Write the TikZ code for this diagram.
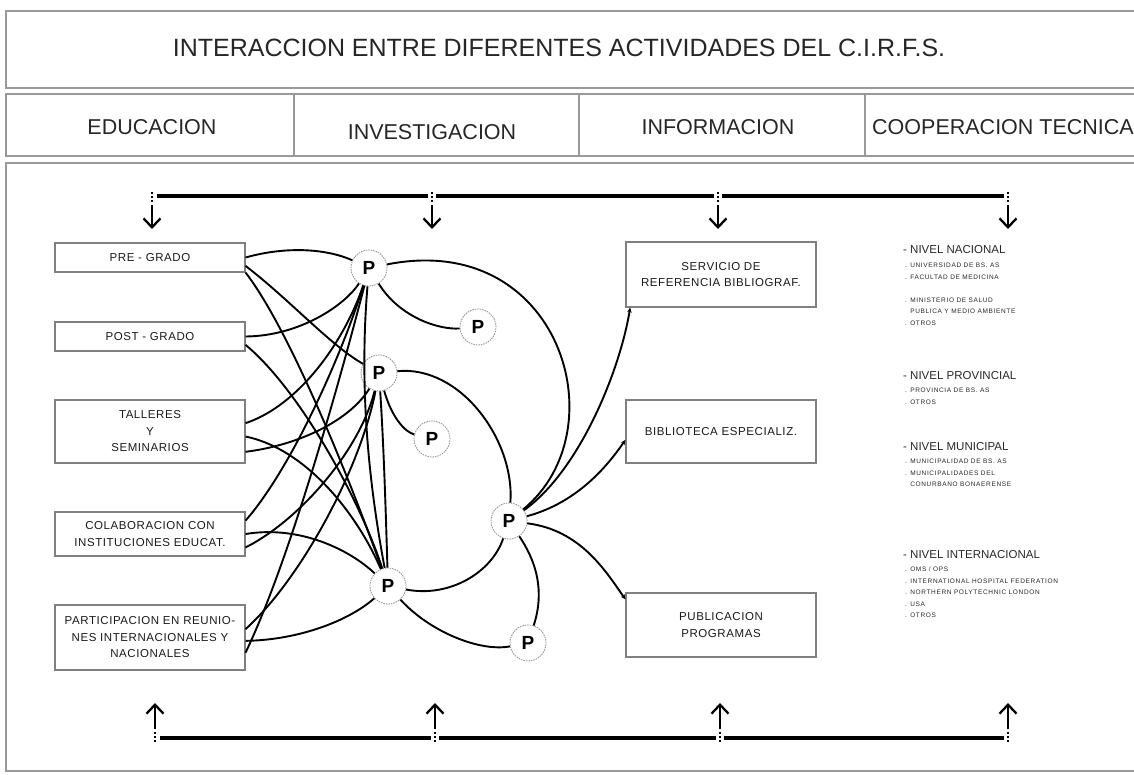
\documentclass[tikz,border=0pt]{standalone}
\usepackage{fontspec}
\setmainfont{Liberation Sans}
\newfontfamily\spacedfont[LetterSpace=5]{Liberation Sans}
\newfontfamily\itemfont[LetterSpace=10]{Liberation Sans}
\usetikzlibrary{arrows.meta}
\begin{document}
\begin{tikzpicture}[x=1pt,y=-1pt,
  frame/.style={draw=black!40, line width=1.8pt, inner sep=0pt, anchor=north west},
  headtext/.style={font=\fontsize{21.5}{21.5}\selectfont, text=black!85, inner sep=0pt},
  box/.style={draw=black!50, line width=1.1pt, minimum width=190pt, align=center, inner sep=0pt, text=black!90, font=\spacedfont\fontsize{11.5}{16.5}\selectfont},
  pnode/.style={circle, draw=black!45, line width=0.8pt, dash pattern=on 1.5pt off 1pt, minimum size=36pt, inner sep=0pt, font=\bfseries\fontsize{19}{19}\selectfont},
  link/.style={line width=1.9pt},
  tolink/.style={line width=1.9pt, -{Stealth[length=5pt,width=4.5pt]}},
  bus/.style={line width=3.6pt},
  stub/.style={line width=1.5pt, dash pattern=on 2pt off 2pt},
  droparrow/.style={line width=2.3pt, -{Straight Barb[length=9pt,width=17pt]}},
  lvl/.style={anchor=west, inner sep=0pt, font=\fontsize{11.5}{11.5}\selectfont, text=black!85},
  items/.style={anchor=north west, inner sep=0pt, align=left, font=\itemfont\fontsize{6.5}{11.5}\selectfont, text=black!85},
]
\useasboundingbox (0,0) rectangle (1134,774);
\clip (0,0) rectangle (1134,774);

% frames
\node[frame, minimum width=1140pt, minimum height=77pt] (titlebox) at (5,10) {};
\node[headtext, font=\fontsize{25}{25}\selectfont] (title) at (559,48) {INTERACCION ENTRE DIFERENTES ACTIVIDADES DEL C.I.R.F.S.};
\node[frame, minimum width=288pt, minimum height=62pt] (cell1) at (5,93) {};
\node[frame, minimum width=285pt, minimum height=62pt] (cell2) at (293,93) {};
\node[frame, minimum width=286pt, minimum height=62pt] (cell3) at (578,93) {};
\node[frame, minimum width=280pt, minimum height=62pt] (cell4) at (864,93) {};
\node[headtext] (h1) at (152,127) {EDUCACION};
\node[headtext] (h2) at (432,132) {INVESTIGACION};
\node[headtext] (h3) at (718,127) {INFORMACION};
\node[headtext, anchor=west] (h4) at (872,127) {COOPERACION TECNICA};
\node[frame, minimum width=1140pt, minimum height=608pt] (mainbox) at (5,162) {};

% top bus
\coordinate (t1) at (152,196);
\coordinate (t2) at (432,196);
\coordinate (t3) at (718,196);
\coordinate (t4) at (1008,196);
\draw[bus] ([xshift=5pt]t1) -- ([xshift=-4pt]t2);
\draw[bus] ([xshift=4pt]t2) -- ([xshift=-4pt]t3);
\draw[bus] ([xshift=4pt]t3) -- ([xshift=-4pt]t4);
\foreach \c in {t1,t2,t3,t4}{
  \draw[stub] ([yshift=4pt]\c) -- ([yshift=-7pt]\c);
  \draw[droparrow] ([yshift=-9pt]\c) -- ([yshift=-33pt]\c);
}
% bottom bus
\coordinate (b1) at (155,738);
\coordinate (b2) at (435,738);
\coordinate (b3) at (720,738);
\coordinate (b4) at (1008,738);
\draw[bus] ([xshift=5pt]b1) -- ([xshift=-4pt]b2);
\draw[bus] ([xshift=4pt]b2) -- ([xshift=-4pt]b3);
\draw[bus] ([xshift=4pt]b3) -- ([xshift=-4pt]b4);
\foreach \c in {b1,b2,b3,b4}{
  \draw[stub] ([yshift=-4pt]\c) -- ([yshift=7pt]\c);
  \draw[droparrow] ([yshift=9pt]\c) -- ([yshift=35pt]\c);
}

% left boxes
\node[box, minimum height=29pt] (pre) at (150,257.5) {PRE - GRADO};
\node[box, minimum height=29pt] (post) at (150,336.5) {POST - GRADO};
\node[box, minimum height=63pt] (tall) at (150,431.5) {TALLERES\\Y\\SEMINARIOS};
\node[box, minimum height=44pt] (colab) at (150,534) {COLABORACION CON\\INSTITUCIONES EDUCAT.};
\node[box, minimum height=65pt] (part) at (150,637.5) {PARTICIPACION EN REUNIO-\\NES INTERNACIONALES Y\\NACIONALES};
% information boxes
\node[box, minimum height=65pt] (serv) at (721,274.5) {SERVICIO DE\\REFERENCIA BIBLIOGRAF.};
\node[box, minimum height=63pt] (bibl) at (721,431.5) {BIBLIOTECA ESPECIALIZ.};
\node[box, minimum height=64pt] (publ) at (721,625) {PUBLICACION\\PROGRAMAS};

% P nodes
\node[pnode] (p1) at (369,268) {P};
\node[pnode] (p2) at (478,327) {P};
\node[pnode] (p3) at (379,373) {P};
\node[pnode] (p4) at (432,439) {P};
\node[pnode] (p5) at (509,521) {P};
\node[pnode] (p6) at (388,586) {P};
\node[pnode] (p7) at (528,643) {P};

% connections among P
\draw[link] (p1) .. controls (560,230) and (620,430) .. (p5);
\draw[link] (p1) .. controls (400,318) and (440,330) .. (p2);
\draw[link] (p3) .. controls (460,365) and (515,440) .. (p5);
\draw[link] (p3) .. controls (392,418) and (405,432) .. (p4);
\draw[link] (p6) .. controls (450,598) and (492,572) .. (p5);
\draw[link] (p6) .. controls (430,632) and (480,652) .. (p7);
\draw[link] (p5) .. controls (542,570) and (542,600) .. (p7);
\draw[tolink] (p5) .. controls (580,470) and (620,370) .. (serv.200);
\draw[tolink] (p5) .. controls (580,502) and (610,462) .. (bibl.185);
\draw[tolink] (p5) .. controls (580,530) and (605,570) .. (publ.165);
\draw[link] (p1) .. controls (358,400) and (372,500) .. (p6);
\draw[link] (p3) .. controls (384,450) and (386,520) .. (p6);

% left crossing lines
\draw[link] (pre.east) .. controls (290,245) and (330,250) .. (p1);
\draw[link] (pre.-5) .. controls (290,300) and (330,345) .. (p3);
\draw[link] (pre.south east) .. controls (290,330) and (350,480) .. (p6);
\draw[link] (post.east) .. controls (300,336) and (345,305) .. (p1);
\draw[link] (post.-5) .. controls (300,390) and (360,500) .. (p6);
\draw[link] (tall.5) .. controls (300,405) and (345,340) .. (p1);
\draw[link] (tall.-3) .. controls (310,450) and (360,520) .. (p6);
\draw[link] (tall.-12) .. controls (300,445) and (350,420) .. (p3);
\draw[link] (colab.8) .. controls (290,470) and (340,360) .. (p1);
\draw[link] (colab.0) .. controls (300,525) and (350,550) .. (p6);
\draw[link] (colab.-8) .. controls (300,520) and (360,450) .. (p3);
\draw[link] (part.5) .. controls (300,580) and (360,470) .. (p3);
\draw[link] (part.-2) .. controls (300,640) and (350,620) .. (p6);
\draw[link] (part.-9) .. controls (290,560) and (340,380) .. (p1);

% cooperacion tecnica
\node[lvl] (n1) at (903,250) {- NIVEL NACIONAL};
\node[items] (n1i) at (905,263) {. UNIVERSIDAD DE BS. AS\\. FACULTAD DE MEDICINA\\[11.5pt]. MINISTERIO DE SALUD\\\phantom{. }PUBLICA Y MEDIO AMBIENTE\\. OTROS};
\node[lvl] (n2) at (903,376) {- NIVEL PROVINCIAL};
\node[items] (n2i) at (905,388) {. PROVINCIA DE BS. AS\\. OTROS};
\node[lvl] (n3) at (903,447) {- NIVEL MUNICIPAL};
\node[items] (n3i) at (905,459) {. MUNICIPALIDAD DE BS. AS\\. MUNICIPALIDADES DEL\\\phantom{. }CONURBANO BONAERENSE};
\node[lvl] (n4) at (903,555) {- NIVEL INTERNACIONAL};
\node[items] (n4i) at (905,567) {. OMS / OPS\\. INTERNATIONAL HOSPITAL FEDERATION\\. NORTHERN POLYTECHNIC LONDON\\. USA\\. OTROS};
\end{tikzpicture}
\end{document}
